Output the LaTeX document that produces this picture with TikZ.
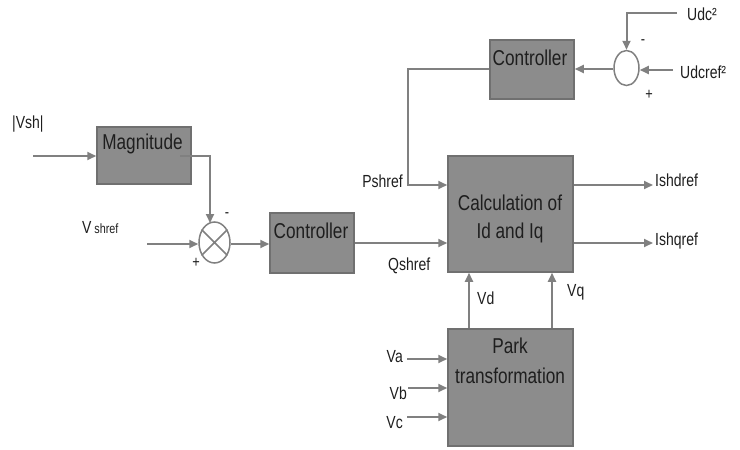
\documentclass[tikz,border=0pt]{standalone}
\usepackage{fontspec}
\setmainfont{Liberation Sans}
\newfontfamily\narrowfont[FakeStretch=0.8]{Liberation Sans}
\usetikzlibrary{arrows.meta,shapes.geometric}
\definecolor{boxfill}{RGB}{140,140,140}
\definecolor{boxline}{RGB}{112,112,112}
\definecolor{wire}{RGB}{128,128,128}
\definecolor{ink}{RGB}{30,30,30}
\tikzset{
  blk/.style={draw=boxline, fill=boxfill, line width=1.5pt, rectangle, inner sep=0pt},
  sumj/.style={draw=wire, fill=white, line width=1.5pt, ellipse, inner sep=0pt},
  wirel/.style={draw=wire, line width=2pt},
  arr/.style={wirel, -{Triangle[length=9pt,width=8pt]}},
  big/.style={text=ink, font=\narrowfont\fontsize{21.5}{24}\selectfont, anchor=base, inner sep=0pt},
  lbl/.style={text=ink, font=\narrowfont\fontsize{17.5}{20}\selectfont, anchor=base west, inner sep=0pt},
  lblr/.style={text=ink, font=\narrowfont\fontsize{17.5}{20}\selectfont, anchor=base east, inner sep=0pt},
  sgn/.style={text=ink, font=\narrowfont\fontsize{16}{18}\selectfont, inner sep=0pt},
}
\begin{document}
\begin{tikzpicture}[x=1pt,y=-1pt]
\useasboundingbox (0,0) rectangle (740,450);
% blocks
\node[blk, minimum width=94pt, minimum height=57pt] (mag) at (144,155.5) {};
\node[blk, minimum width=84pt, minimum height=60pt] (ctl1) at (312,243) {};
\node[blk, minimum width=84pt, minimum height=59pt] (ctl2) at (532,69.5) {};
\node[blk, minimum width=125pt, minimum height=116pt] (calc) at (510.5,214) {};
\node[blk, minimum width=125pt, minimum height=117pt] (park) at (510.5,387.5) {};
% summing junctions
\node[sumj, minimum width=31pt, minimum height=41pt] (s1) at (214.5,242.5) {};
\draw[wire, line width=1.5pt] (s1.45) -- (s1.225) (s1.135) -- (s1.315);
\node[sumj, minimum width=25pt, minimum height=35pt] (s2) at (626.5,68) {};
% block texts
\node[big] (tmag) at (142.5,149.5) {Magnitude};
\node[big] (tctl1) at (311,238) {Controller};
\node[big] (tctl2) at (530,65) {Controller};
\node[big] (tcalc1) at (510,210) {Calculation of};
\node[big] (tcalc2) at (510,238) {Id and Iq};
\node[big] (tpark1) at (510,353) {Park};
\node[big] (tpark2) at (510,383) {transformation};
% labels
\node[lbl] (lvsh) at (12,128) {|Vsh|};
\node[lbl] (lvshref) at (82,233) {V\,{\fontsize{13.5}{15}\selectfont shref}};
\node[lblr] (lp) at (403,187) {Pshref};
\node[lbl] (lq) at (388,270) {Qshref};
\node[lbl] (lid) at (655,186) {Ishdref};
\node[lbl] (liq) at (655,245) {Ishqref};
\node[lbl] (lvd) at (477,304) {Vd};
\node[lbl] (lvq) at (567,296) {Vq};
\node[lblr] (lva) at (403,362) {Va};
\node[lblr] (lvb) at (407,399) {Vb};
\node[lblr] (lvc) at (403,428) {Vc};
\node[lbl] (ludc) at (687,20) {Udc²};
\node[lbl] (ludcr) at (680,78) {Udcref²};
\node[sgn] (m1) at (227,215) {-};
\node[sgn] (p1) at (196,263) {+};
\node[sgn] (m2) at (643,42) {-};
\node[sgn] (p2) at (649,95) {+};
% free-end coordinates
\coordinate (vshin) at (33,156);
\coordinate (magout) at (180,156);
\coordinate (vrefin) at (147,244);
\coordinate (udcin) at (677,13);
\coordinate (udcrin) at (673,70);
\coordinate (ido) at (653,185);
\coordinate (iqo) at (653,243);
\coordinate (vain) at (407,359);
\coordinate (vbin) at (408,388);
\coordinate (vcin) at (407,417);
% connectors
\draw[arr] (vshin) -- (mag.west |- vshin);
\draw[arr] (magout) -| (210,223);
\draw[arr] (vrefin) -- (s1.west |- vrefin);
\draw[arr] (s1.east |- 0,244) -- (ctl1.west |- 0,244);
\draw[arr] (ctl1.east |- 0,243) -- (calc.west |- 0,243);
\draw[arr] (ctl2.west |- 0,69) -| (408,185) -- (calc.west |- 0,185);
\draw[arr] (s2.west |- 0,69) -- (ctl2.east |- 0,69);
\draw[arr] (udcin) -| (s2.north);
\draw[arr] (udcrin) -- (s2.east |- udcrin);
\draw[arr] (calc.east |- ido) -- (ido);
\draw[arr] (calc.east |- iqo) -- (iqo);
\draw[arr] (park.north -| 469,0) -- (calc.south -| 469,0);
\draw[arr] (park.north -| 552,0) -- (calc.south -| 552,0);
\draw[arr] (vain) -- (park.west |- vain);
\draw[arr] (vbin) -- (park.west |- vbin);
\draw[arr] (vcin) -- (park.west |- vcin);
\end{tikzpicture}
\end{document}
